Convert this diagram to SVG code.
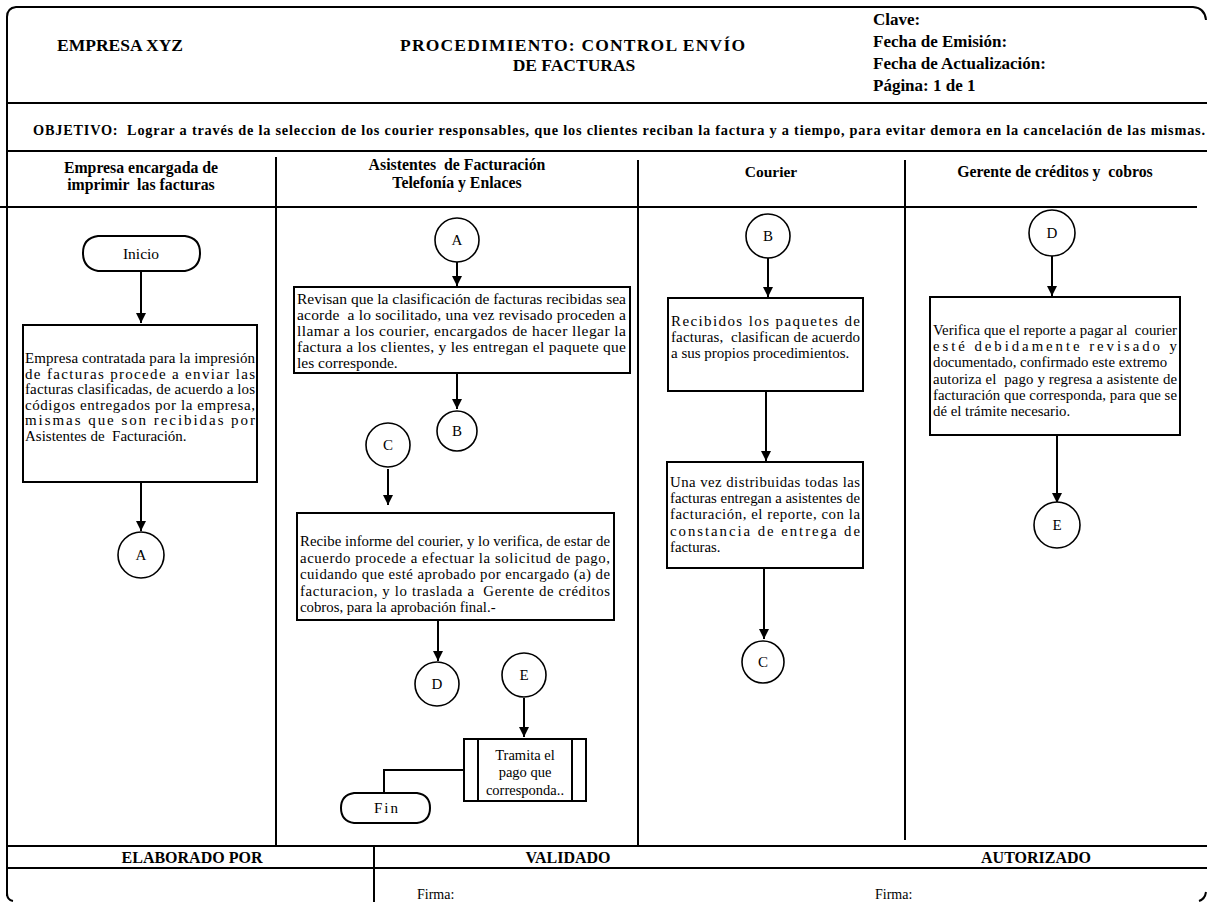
<svg xmlns="http://www.w3.org/2000/svg" width="1207" height="902" viewBox="0 0 1207 902">
<style>
.ln{stroke:#000;stroke-width:2;fill:none}
.bx{stroke:#000;stroke-width:2;fill:#fff}
.cn{stroke:#000;stroke-width:1.6;fill:#fff}
.ar{stroke:#000;stroke-width:2;fill:none;marker-end:url(#ah)}
.hb{font-family:"Liberation Serif","Times New Roman",serif;font-weight:bold;fill:#000}
.t{font-family:"Liberation Serif","Times New Roman",serif;fill:#000}
.c{text-anchor:middle}
</style>
<defs>
<marker id="ah" viewBox="0 0 10 10" refX="10" refY="5" markerWidth="5" markerHeight="5" orient="auto" markerUnits="strokeWidth">
<path d="M0,0 L10,5 L0,10 Z" fill="#000"/>
</marker>
</defs>
<rect width="1207" height="902" fill="#fff"/>
<g id="frame">
<path class="ln" d="M7,896 V17 Q7,8 16,7 H1193 Q1205,8 1206,20"/>
<path class="ln" d="M7,893 Q7,900 13,901"/>
<path class="ln" d="M1199,901 Q1205,899 1206,892"/>
<line class="ln" x1="7" y1="103" x2="1207" y2="103"/>
<line class="ln" x1="7" y1="151" x2="1207" y2="151"/>
<line class="ln" x1="0" y1="207" x2="1197" y2="207"/>
<line class="ln" x1="276" y1="157" x2="276" y2="846"/>
<line class="ln" x1="638" y1="160" x2="638" y2="846"/>
<line class="ln" x1="905" y1="160" x2="905" y2="840"/>
<line class="ln" x1="7" y1="846" x2="1207" y2="846"/>
<line class="ln" x1="7" y1="868" x2="1207" y2="868"/>
<line class="ln" x1="374" y1="846" x2="374" y2="902"/>
</g>
<g id="header">
<text class="hb c" x="120" y="51" font-size="17.5">EMPRESA XYZ</text>
<text class="hb" x="400" y="51" font-size="17.5" textLength="345" lengthAdjust="spacing">PROCEDIMIENTO: CONTROL ENVÍO</text>
<text class="hb c" x="574" y="71" font-size="17.5">DE FACTURAS</text>
<text class="hb" x="873" y="25" font-size="17">Clave:</text>
<text class="hb" x="873" y="47" font-size="17">Fecha de Emisión:</text>
<text class="hb" x="873" y="69" font-size="17">Fecha de Actualización:</text>
<text class="hb" x="873" y="91" font-size="17">Página: 1 de 1</text>
<text class="hb" x="33" y="135" font-size="14.3" textLength="1172" lengthAdjust="spacing" xml:space="preserve">OBJETIVO:  Lograr a través de la seleccion de los courier responsables, que los clientes reciban la factura y a tiempo, para evitar demora en la cancelación de las mismas.</text>
</g>
<g id="lanes">
<text class="hb c" x="141" y="173" font-size="15.8">Empresa encargada de</text>
<text class="hb c" x="141" y="190" font-size="15.8" xml:space="preserve">imprimir  las facturas</text>
<text class="hb c" x="457" y="170" font-size="15.8" xml:space="preserve">Asistentes  de Facturación</text>
<text class="hb c" x="457" y="188" font-size="15.8">Telefonía y Enlaces</text>
<text class="hb c" x="771" y="177" font-size="15.5">Courier</text>
<text class="hb c" x="1055" y="177" font-size="15.8" xml:space="preserve">Gerente de créditos y  cobros</text>
</g>
<g id="connectors">
<line class="ar" x1="141" y1="271" x2="141" y2="323"/>
<line class="ar" x1="141" y1="483" x2="141" y2="531"/>
<line class="ar" x1="457" y1="262" x2="457" y2="286"/>
<line class="ar" x1="457" y1="373" x2="457" y2="409"/>
<line class="ar" x1="388" y1="469" x2="388" y2="505"/>
<line class="ar" x1="438" y1="621" x2="438" y2="661"/>
<line class="ar" x1="524" y1="698" x2="524" y2="737"/>
<polyline class="ln" points="464,770 384,770 384,794"/>
<line class="ar" x1="768" y1="258" x2="768" y2="297"/>
<line class="ar" x1="766" y1="391" x2="766" y2="461"/>
<line class="ar" x1="764" y1="568" x2="764" y2="639"/>
<line class="ar" x1="1052" y1="255" x2="1052" y2="296"/>
<line class="ar" x1="1057" y1="435" x2="1057" y2="503"/>
</g>
<g id="n-inicio">
<path class="bx" d="M98,236 H185 Q200,238 200,253 Q200,268 185,271 H98 Q83,268 83,253 Q83,238 98,236 Z"/>
<text class="t c" x="141" y="259" font-size="15.5">Inicio</text>
</g>
<g id="n-empresa" font-size="15">
<rect class="bx" x="23" y="325" width="234" height="157"/>
<text class="t" x="25" y="363" textLength="230" lengthAdjust="spacing">Empresa contratada para la impresión</text>
<text class="t" x="25" y="379" textLength="230" lengthAdjust="spacing">de facturas procede a enviar las</text>
<text class="t" x="25" y="394" textLength="230" lengthAdjust="spacing">facturas clasificadas, de acuerdo a los</text>
<text class="t" x="25" y="410" textLength="230" lengthAdjust="spacing">códigos entregados por la empresa,</text>
<text class="t" x="25" y="425" textLength="230" lengthAdjust="spacing">mismas que son recibidas por</text>
<text class="t" x="25" y="441" xml:space="preserve">Asistentes de  Facturación.</text>
</g>
<g id="n-a1" font-size="15">
<circle class="cn" cx="141" cy="555" r="23"/>
<text class="t c" x="141" y="560">A</text>
</g>
<g id="n-a2" font-size="15">
<circle class="cn" cx="457" cy="240" r="22"/>
<text class="t c" x="457" y="245">A</text>
</g>
<g id="n-revisan" font-size="15.5">
<rect class="bx" x="294" y="287" width="336" height="86"/>
<text class="t" x="297" y="304" textLength="329" lengthAdjust="spacing">Revisan que la clasificación de facturas recibidas sea</text>
<text class="t" x="297" y="320" textLength="329" lengthAdjust="spacing" xml:space="preserve">acorde  a lo socilitado, una vez revisado proceden a</text>
<text class="t" x="297" y="336" textLength="329" lengthAdjust="spacing">llamar a los courier, encargados de hacer llegar la</text>
<text class="t" x="297" y="352" textLength="329" lengthAdjust="spacing">factura a los clientes, y les entregan el paquete que</text>
<text class="t" x="297" y="368">les corresponde.</text>
</g>
<g id="n-b1" font-size="15">
<circle class="cn" cx="457" cy="431" r="20"/>
<text class="t c" x="457" y="436">B</text>
</g>
<g id="n-c1" font-size="15">
<circle class="cn" cx="388" cy="445" r="22"/>
<text class="t c" x="388" y="450">C</text>
</g>
<g id="n-recibe" font-size="14.8">
<rect class="bx" x="297" y="513" width="317" height="107"/>
<text class="t" x="300" y="546" textLength="310" lengthAdjust="spacing">Recibe informe del courier, y lo verifica, de estar de</text>
<text class="t" x="300" y="563" textLength="310" lengthAdjust="spacing">acuerdo procede a efectuar la solicitud de pago,</text>
<text class="t" x="300" y="579" textLength="310" lengthAdjust="spacing">cuidando que esté aprobado por encargado (a) de</text>
<text class="t" x="300" y="596" textLength="310" lengthAdjust="spacing" xml:space="preserve">facturacion, y lo traslada a  Gerente de créditos</text>
<text class="t" x="300" y="612">cobros, para la aprobación final.-</text>
</g>
<g id="n-d1" font-size="15">
<circle class="cn" cx="437" cy="684" r="22"/>
<text class="t c" x="437" y="689">D</text>
</g>
<g id="n-e1" font-size="15">
<circle class="cn" cx="524" cy="675" r="22"/>
<text class="t c" x="524" y="680">E</text>
</g>
<g id="n-tramita" font-size="14.5">
<rect class="bx" x="464" y="739" width="122" height="62"/>
<line class="ln" x1="478" y1="739" x2="478" y2="801"/>
<line class="ln" x1="572" y1="739" x2="572" y2="801"/>
<text class="t c" x="525" y="760">Tramita el</text>
<text class="t c" x="525" y="777">pago que</text>
<text class="t c" x="525" y="795">corresponda..</text>
</g>
<g id="n-fin">
<path class="bx" d="M354,793 H417 Q430,795 430,808 Q430,821 417,823 H354 Q341,821 341,808 Q341,795 354,793 Z"/>
<text class="t c" x="387" y="813" font-size="15" letter-spacing="2">Fin</text>
</g>
<g id="n-b2" font-size="15">
<circle class="cn" cx="768" cy="236" r="22"/>
<text class="t c" x="768" y="241">B</text>
</g>
<g id="n-recibidos" font-size="15">
<rect class="bx" x="668" y="298" width="195" height="93"/>
<text class="t" x="671" y="326" textLength="189" lengthAdjust="spacing">Recibidos los paquetes de</text>
<text class="t" x="671" y="342" textLength="189" lengthAdjust="spacing" xml:space="preserve">facturas,  clasifican de acuerdo</text>
<text class="t" x="671" y="358">a sus propios procedimientos.</text>
</g>
<g id="n-unavez" font-size="14.8">
<rect class="bx" x="667" y="462" width="196" height="106"/>
<text class="t" x="670" y="487" textLength="190" lengthAdjust="spacing">Una vez distribuidas todas las</text>
<text class="t" x="670" y="503" textLength="190" lengthAdjust="spacing">facturas entregan a asistentes de</text>
<text class="t" x="670" y="519" textLength="190" lengthAdjust="spacing">facturación, el reporte, con la</text>
<text class="t" x="670" y="536" textLength="190" lengthAdjust="spacing">constancia de entrega de</text>
<text class="t" x="670" y="552">facturas.</text>
</g>
<g id="n-c2" font-size="15">
<circle class="cn" cx="763" cy="662" r="21"/>
<text class="t c" x="763" y="667">C</text>
</g>
<g id="n-d2" font-size="15">
<circle class="cn" cx="1052" cy="233" r="23"/>
<text class="t c" x="1052" y="238">D</text>
</g>
<g id="n-verifica" font-size="14.8">
<rect class="bx" x="930" y="297" width="250" height="138"/>
<text class="t" x="933" y="335" textLength="244" lengthAdjust="spacing" xml:space="preserve">Verifica que el reporte a pagar al  courier</text>
<text class="t" x="933" y="351" textLength="244" lengthAdjust="spacing">esté debidamente revisado y</text>
<text class="t" x="933" y="367">documentado, confirmado este extremo</text>
<text class="t" x="933" y="384" textLength="244" lengthAdjust="spacing" xml:space="preserve">autoriza el  pago y regresa a asistente de</text>
<text class="t" x="933" y="400" textLength="244" lengthAdjust="spacing">facturación que corresponda, para que se</text>
<text class="t" x="933" y="416">dé el trámite necesario.</text>
</g>
<g id="n-e2" font-size="15">
<circle class="cn" cx="1057" cy="525" r="23"/>
<text class="t c" x="1057" y="530">E</text>
</g>
<g id="footer">
<text class="hb c" x="192" y="863" font-size="16">ELABORADO POR</text>
<text class="hb c" x="568" y="863" font-size="16">VALIDADO</text>
<text class="hb c" x="1036" y="863" font-size="16">AUTORIZADO</text>
<text class="t" x="417" y="899" font-size="14">Firma:</text>
<text class="t" x="875" y="899" font-size="14">Firma:</text>
</g>
</svg>
